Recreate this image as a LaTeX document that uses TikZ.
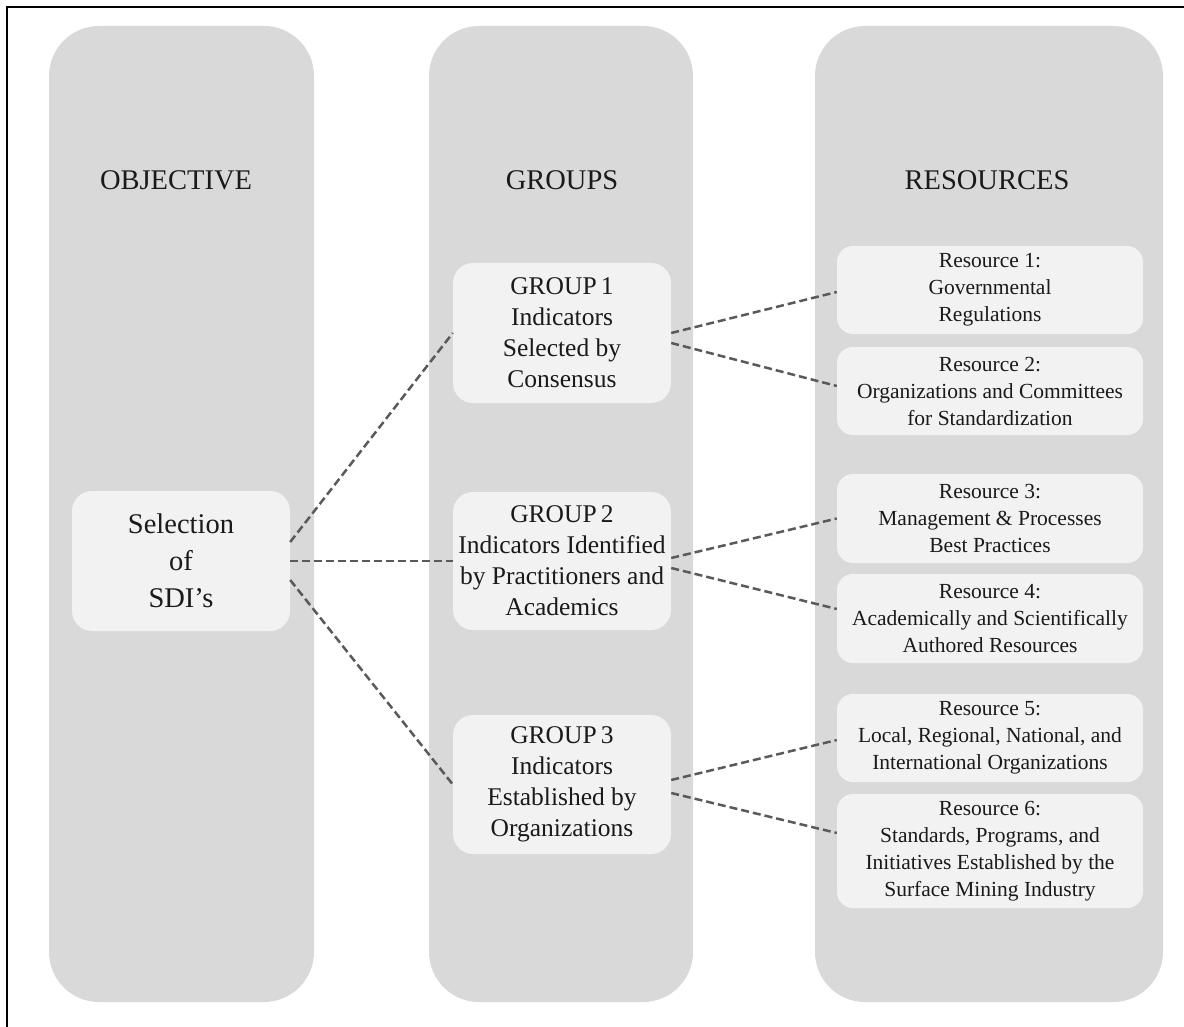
\documentclass[tikz,border=0pt]{standalone}
\usepackage{fontspec}
\setmainfont{Liberation Serif}
\definecolor{lanefill}{HTML}{D9D9D9}
\definecolor{boxfill}{HTML}{F2F2F2}
\definecolor{linkgray}{HTML}{5A5A5A}
\definecolor{inkcol}{HTML}{1A1A1A}

\begin{document}
\begin{tikzpicture}[x=1pt,y=-1pt,
  lane/.style={rectangle, fill=lanefill, rounded corners=50pt,
    minimum width=#1, minimum height=976pt, inner sep=0pt},
  lanetitle/.style={anchor=base, text=inkcol, inner sep=0pt,
    font=\fontsize{28.5}{34}\selectfont},
  selbox/.style={rectangle, fill=boxfill, rounded corners=20pt,
    minimum width=218pt, minimum height=140pt, inner sep=0pt,
    align=center, text=inkcol, font=\fontsize{28.5}{37}\selectfont},
  grpbox/.style={rectangle, fill=boxfill, rounded corners=20pt,
    minimum width=218pt, minimum height=#1, inner sep=0pt,
    align=center, text=inkcol, font=\fontsize{25.5}{31}\selectfont},
  resbox/.style={rectangle, fill=boxfill, rounded corners=16pt,
    minimum width=306pt, minimum height=#1, inner sep=0pt,
    align=center, text=inkcol, font=\fontsize{21.5}{27}\selectfont},
  link/.style={draw=linkgray, line width=2.5pt, dash pattern=on 8pt off 4pt}
]
\useasboundingbox (0,0) rectangle (1184,1027);

% outer frame (left and top edges)
\coordinate (fbl) at (6.5,1027);
\coordinate (ftl) at (6.5,7);
\coordinate (ftr) at (1184,7);
\draw[line width=2pt, black] (fbl) -- (ftl) -- (ftr);

% the three lanes
\node[lane=265pt] (objlane) at (181.5,514) {};
\node[lane=264pt] (grplane) at (561,514) {};
\node[lane=348pt] (reslane) at (989,514) {};

\node[lanetitle] (objtitle) at (176,190) {OBJECTIVE};
\node[lanetitle] (grptitle) at (562,190) {GROUPS};
\node[lanetitle] (restitle) at (987,190) {RESOURCES};

% objective
\node[selbox] (sel) at (181,561) {Selection\\of\\SDI’s};

% groups
\node[grpbox=140pt] (g1) at (562,333)
  {GROUP\,1\\Indicators\\Selected by\\Consensus};
\node[grpbox=138pt] (g2) at (562,561)
  {GROUP\,2\\Indicators Identified\\by Practitioners and\\Academics};
\node[grpbox=139pt] (g3) at (562,784.5)
  {GROUP\,3\\Indicators\\Established by\\Organizations};

% resources
\node[resbox=88pt] (r1) at (990,290)
  {Resource 1:\\Governmental\\Regulations};
\node[resbox=88pt] (r2) at (990,391)
  {Resource 2:\\Organizations and Committees\\for Standardization};
\node[resbox=89pt] (r3) at (990,518.5)
  {Resource 3:\\Management \& Processes\\Best Practices};
\node[resbox=89pt] (r4) at (990,618.5)
  {Resource 4:\\Academically and Scientifically\\Authored Resources};
\node[resbox=88pt] (r5) at (990,738)
  {Resource 5:\\Local, Regional, National, and\\International Organizations};
\node[resbox=114pt] (r6) at (990,851)
  {Resource 6:\\Standards, Programs, and\\Initiatives Established by the\\Surface Mining Industry};

% objective to groups
\draw[link] ([yshift=19pt]sel.east) -- (g1.west);
\draw[link] (sel.east) -- (g2.west);
\draw[link] ([yshift=-19pt]sel.east) -- (g3.west);

% groups to resources
\draw[link] (g1.east) -- ([yshift=-2pt]r1.west);
\draw[link] ([yshift=-10pt]g1.east) -- ([yshift=5pt]r2.west);
\draw[link] ([yshift=3pt]g2.east) -- (r3.west);
\draw[link] ([yshift=-7pt]g2.east) -- ([yshift=9.5pt]r4.west);
\draw[link] ([yshift=4.5pt]g3.east) -- ([yshift=-2pt]r5.west);
\draw[link] ([yshift=-8.5pt]g3.east) -- ([yshift=18pt]r6.west);
\end{tikzpicture}
\end{document}
